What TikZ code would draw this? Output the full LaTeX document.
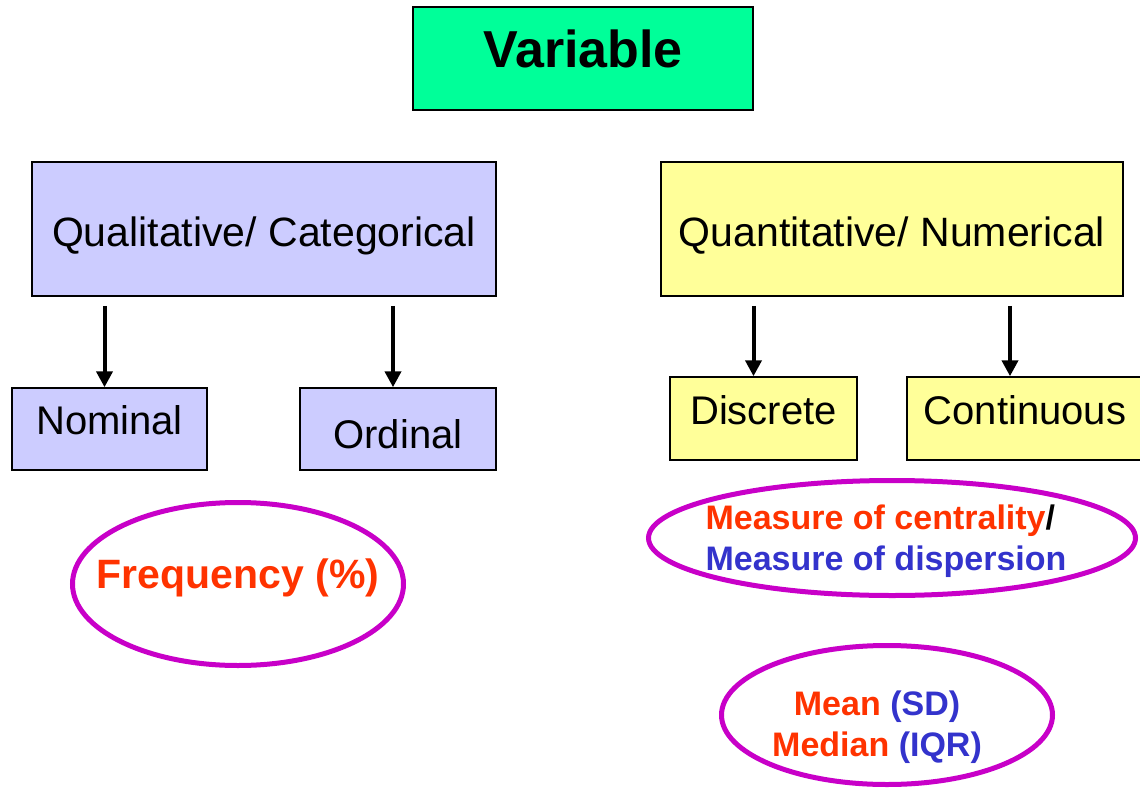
\documentclass[tikz,border=0pt]{standalone}
\usepackage{fontspec}
\setmainfont{Liberation Sans}
\usepackage{tikz}
\usetikzlibrary{shapes.geometric,positioning,arrows.meta}

\definecolor{VarGreen}{RGB}{0,255,153}
\definecolor{CatBlue}{RGB}{204,204,255}
\definecolor{NumYellow}{RGB}{255,255,153}
\definecolor{OvalPurple}{RGB}{200,0,200}
\definecolor{HotRed}{RGB}{255,51,0}
\definecolor{DeepBlue}{RGB}{51,51,204}

\begin{document}
\begin{tikzpicture}[
		x=1pt,y=-1pt,
		arr/.style={-{Triangle[width=16pt,length=16pt]},line width=4pt},
		box/.style={
			draw=black,
			line width=1.5pt,
			rectangle,
			inner sep=0pt,
			font=\fontsize{40}{44}\selectfont
		},
		catbox/.style={box,fill=CatBlue},
		numbox/.style={box,fill=NumYellow},
		oval/.style={
			draw=OvalPurple,
			line width=5pt,
			ellipse,
			inner xsep=-30pt,
			inner ysep=0pt,
			font=\bfseries\fontsize{34}{41}\selectfont
		}
		]
		\useasboundingbox (0,0) rectangle (1140,789);
		\clip (0,0) rectangle (1140,789);
		% Top
		\node[box,fill=VarGreen,line width=2pt,minimum width=340,minimum height=103,
			font=\bfseries\fontsize{52}{60}\selectfont,text height=19pt,text depth=0pt]
			(var) at (583,58.5) {Variable};
		% Two kinds
		\node[catbox,minimum width=464,minimum height=134,text height=34pt,text depth=0pt,
			font=\fontsize{41}{44}\selectfont]
			(qual) at (264,229) {Qualitative/ Categorical};
		\node[numbox,minimum width=462,minimum height=134,text height=34pt,text depth=0pt,
			font=\fontsize{41}{44}\selectfont]
			(quant) at (892,229) {Quantitative/ Numerical};
		% Sub kinds
		\node[catbox,minimum width=195,minimum height=82,text height=10.6pt,text depth=0pt]
			(nom) at (109.5,429) {Nominal};
		\node[catbox,minimum width=196,minimum height=82,text height=38.6pt,text depth=0pt]
			(ord) at (398,429) {Ordinal};
		\node[numbox,minimum width=187,minimum height=83,text height=12.6pt,text depth=0pt]
			(disc) at (763.5,418.5) {Discrete};
		\node[numbox,minimum width=236,minimum height=83,text height=12.6pt,text depth=0pt]
			(cont) at (1025,418.5) {Continuous};
		% Arrows
		\draw[arr] ([xshift=-5pt,yshift=-9pt]qual.south -| nom.north) -- ([xshift=-5pt]nom.north);
		\draw[arr] ([xshift=-5pt,yshift=-9pt]qual.south -| ord.north) -- ([xshift=-5pt]ord.north);
		\draw[arr] ([xshift=-10pt,yshift=-9pt]quant.south -| disc.north) -- ([xshift=-10pt]disc.north);
		\draw[arr] ([xshift=-15pt,yshift=-9pt]quant.south -| cont.north) -- ([xshift=-15pt]cont.north);
		% Summaries
		\node[oval,minimum width=331,minimum height=163,text=HotRed,
			font=\bfseries\fontsize{41}{48}\selectfont,text height=8pt,text depth=0pt]
			(freq) at (238,584) {Frequency (\%)};
		\node[oval,minimum width=487,minimum height=115,align=left,text height=64pt,text depth=0pt]
			(meas) at (892,538) {\textcolor{HotRed}{Measure of centrality}/\\
			\textcolor{DeepBlue}{Measure of dispersion}\kern12pt};
		\node[oval,minimum width=331,minimum height=139,align=center,text height=82pt,text depth=0pt]
			(mean) at (887,715) {\textcolor{HotRed}{Mean} \textcolor{DeepBlue}{(SD)}\kern20pt\\
			\textcolor{HotRed}{Median} \textcolor{DeepBlue}{(IQR)}\kern20pt};
	\end{tikzpicture}
\end{document}
